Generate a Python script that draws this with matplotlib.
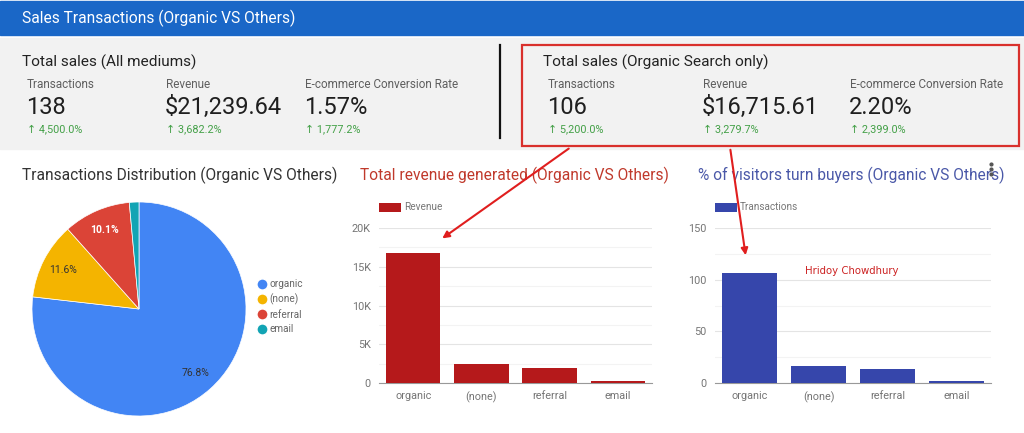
import matplotlib
matplotlib.use('Agg')
import matplotlib.pyplot as plt
from matplotlib.patches import Rectangle, FancyArrowPatch
from matplotlib.lines import Line2D
from matplotlib.ticker import FuncFormatter, MultipleLocator

# ---- data ----
channels = ['organic', '(none)', 'referral', 'email']
transactions = [106, 16, 14, 2]
revenue = [16715.61, 2420, 1880, 224]

kpi_labels = ['Transactions', 'Revenue', 'E-commerce Conversion Rate']
all_values = ['138', '$21,239.64', '1.57%']
all_changes = ['4,500.0%', '3,682.2%', '1,777.2%']
organic_values = ['106', '$16,715.61', '2.20%']
organic_changes = ['5,200.0%', '3,279.7%', '2,399.0%']

pie_colors = ['#4285f4', '#f4b400', '#db4437', '#12a4b4']

W, H = 1024, 433
FONT = ['Roboto', 'DejaVu Sans']
plt.rcParams['font.family'] = FONT

fig = plt.figure(figsize=(W / 100, H / 100), dpi=100)
fig.patch.set_facecolor('white')


def box(x, y, w, h):
    # pixel box (top-left origin) -> figure fraction
    return [x / W, 1 - (y + h) / H, w / W, h / H]


# background layer for panels and KPI text
bg = fig.add_axes([0, 0, 1, 1], zorder=-1)
bg.set_xlim(0, W)
bg.set_ylim(H, 0)
bg.axis('off')

bg.add_patch(Rectangle((0, 1), W, 34, color='#1a67c7'))
bg.text(22, 18, 'Sales Transactions (Organic VS Others)', color='white',
        fontsize=11.2, va='center')
bg.add_patch(Rectangle((0, 38), W, 111, color='#f2f2f2'))
bg.plot([500, 500], [45, 138], color='#111111', lw=1.6)
bg.add_patch(Rectangle((522, 45), 497, 101, fill=False, edgecolor='#d9302c', lw=1.6))


def kpi_block(x0, title, xs, values, changes):
    bg.text(x0, 62, title, fontsize=11.1, color='#222222', va='center')
    for x, lab, val, ch in zip(xs, kpi_labels, values, changes):
        bg.text(x, 85, lab, fontsize=8.5, color='#5f5f5f', va='center')
        bg.text(x - 1, 107, val, fontsize=17, color='#1f1f1f', va='center')
        bg.text(x, 129, '\u2191 ' + ch, fontsize=7.8, color='#43a047', va='center',
                family=FONT)


kpi_block(22, 'Total sales (All mediums)', [27, 166, 305], all_values, all_changes)
kpi_block(543, 'Total sales (Organic Search only)', [548, 703, 850],
          organic_values, organic_changes)

# section titles
bg.text(22, 175, 'Transactions Distribution (Organic VS Others)', fontsize=11.2,
        color='#333333', va='center')
bg.text(360, 175, 'Total revenue generated (Organic VS Others)', fontsize=11.2,
        color='#c0392b', va='center')
bg.text(698, 175, '% of visitors turn buyers (Organic VS Others)', fontsize=11.2,
        color='#4a58a8', va='center')

# ---- pie ----
ax_pie = fig.add_axes(box(32, 202, 214, 214))


def pct_label(p):
    return f'{p:.1f}%' if p > 5 else ''


wedges, texts, autotexts = ax_pie.pie(
    transactions, colors=pie_colors, startangle=90, counterclock=False,
    autopct=pct_label, pctdistance=0.8,
    wedgeprops={'edgecolor': 'white', 'linewidth': 0.5},
    textprops={'fontsize': 7.5, 'color': '#333333'})
autotexts[2].set_color('white')
autotexts[2].set_fontweight('bold')
ax_pie.set_xlim(-1, 1)
ax_pie.set_ylim(-1, 1)
ax_pie.set_aspect('equal')

handles = [Line2D([0], [0], marker='o', color='w', markerfacecolor=c,
                  markersize=8) for c in pie_colors]
fig.legend(handles, channels, loc='upper left',
           bbox_to_anchor=(257 / W, 1 - 279 / H), frameon=False,
           fontsize=7.2, labelcolor='#666666', handlelength=1.0,
           handletextpad=0.2, labelspacing=0.45, borderaxespad=0, borderpad=0)


# ---- bar charts ----
def bar_chart(rect, values, color, label, ymax, major, fmt):
    ax = fig.add_axes(rect)
    ax.bar(range(len(channels)), values, width=0.8, color=color, label=label, zorder=3)
    ax.set_xlim(-0.5, len(channels) - 0.5)
    ax.set_ylim(0, ymax)
    ax.set_xticks(range(len(channels)))
    ax.set_xticklabels(channels)
    ax.yaxis.set_major_locator(MultipleLocator(major))
    ax.yaxis.set_minor_locator(MultipleLocator(major / 2))
    ax.yaxis.set_major_formatter(FuncFormatter(fmt))
    ax.grid(axis='y', which='major', color='#e4e4e4', lw=0.8, zorder=0)
    ax.grid(axis='y', which='minor', color='#f3f3f3', lw=0.8, zorder=0)
    for s in ['top', 'right', 'left']:
        ax.spines[s].set_visible(False)
    ax.spines['bottom'].set_color('#999999')
    ax.tick_params(length=0, labelsize=7.8, labelcolor='#757575', pad=6)
    ax.tick_params(axis='y', which='minor', length=0)
    ax.legend(loc='lower left', bbox_to_anchor=(0, 1.1), frameon=False,
              fontsize=7.2, labelcolor='#777777', handlelength=2.2,
              handleheight=1.0, handletextpad=0.3, borderaxespad=0, borderpad=0)
    return ax


bar_chart(box(379, 228, 273, 155), revenue, '#b5191b', 'Revenue', 20000, 5000,
          lambda v, p: '0' if v == 0 else f'{int(v / 1000)}K')
bar_chart(box(715, 228, 276, 155), transactions, '#3646ab', 'Transactions', 150, 50,
          lambda v, p: f'{int(v)}')

# ---- foreground overlay: arrows, menu dots and watermark ----
fg = fig.add_axes([0, 0, 1, 1], zorder=10)
fg.set_xlim(0, W)
fg.set_ylim(H, 0)
fg.axis('off')
fg.patch.set_alpha(0)

for start, end in [((571, 147), (440, 240)), ((730, 147), (746, 258))]:
    fg.add_patch(FancyArrowPatch(start, end, arrowstyle='-|>', mutation_scale=10,
                                 color='#e01e1e', lw=1.5))

fg.plot([991, 991, 991], [164, 169, 174], 'o', color='#555555', markersize=2)

fg.text(805, 271, 'Hridoy Chowdhury', fontsize=7.3, color='#cc2222',
        family='DejaVu Sans', va='center')

fig.savefig('out.png', dpi=100)
